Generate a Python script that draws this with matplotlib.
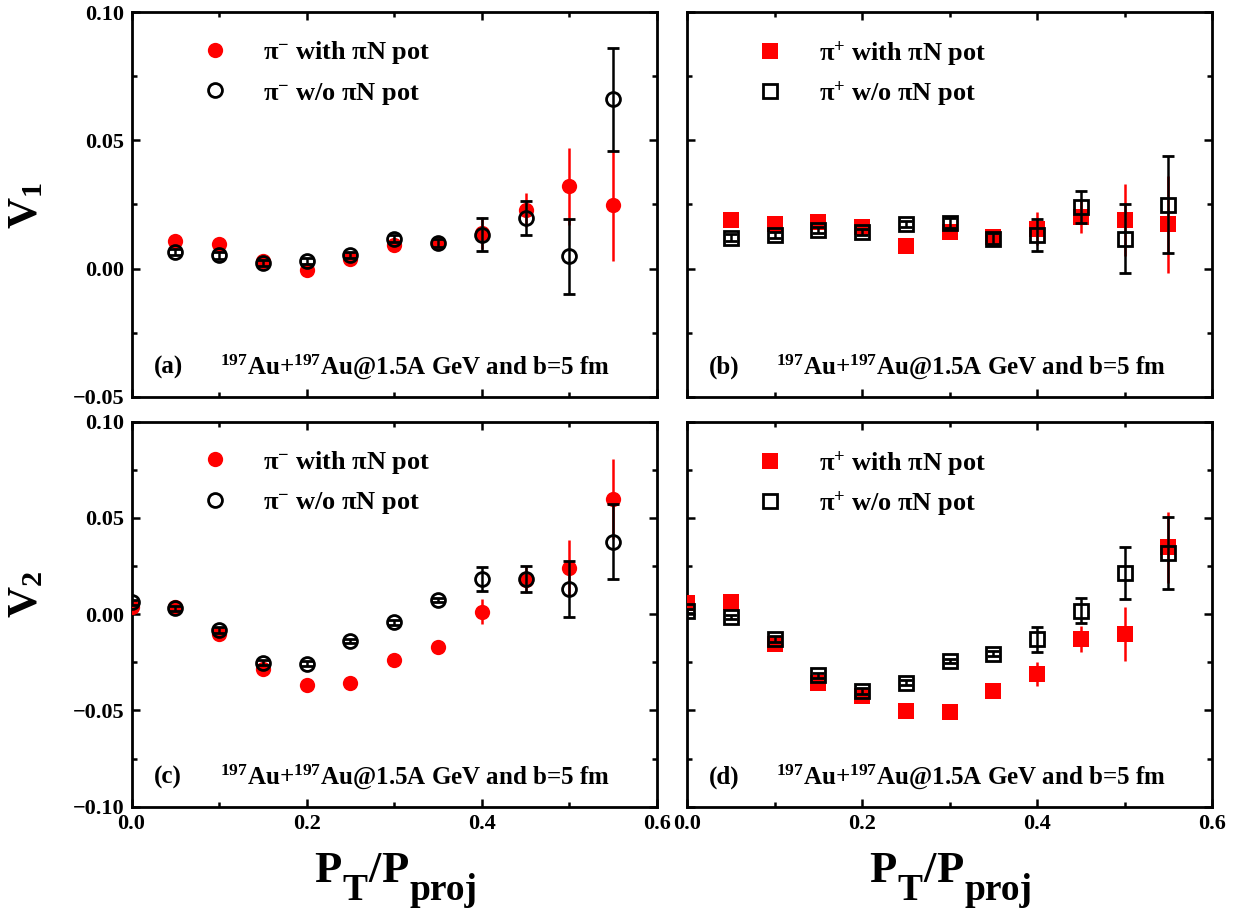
import numpy as np
import matplotlib
matplotlib.use("Agg")
import matplotlib.pyplot as plt
from matplotlib.ticker import MultipleLocator, FuncFormatter

plt.rcParams["font.family"] = ["Liberation Serif", "DejaVu Serif"]
plt.rcParams["font.weight"] = "bold"
plt.rcParams["mathtext.fontset"] = "custom"
plt.rcParams["mathtext.rm"] = "Liberation Serif:bold"
plt.rcParams["mathtext.bf"] = "Liberation Serif:bold"
plt.rcParams["mathtext.it"] = "Liberation Serif:bold:italic"
plt.rcParams["mathtext.default"] = "regular"

# ── data ───────────────────────────────────────────────────
# (a) v1, pi-
x_a = [0.05, 0.10, 0.15, 0.20, 0.25, 0.30, 0.35, 0.40, 0.45, 0.50, 0.55]
v1_pim_with = [0.0108, 0.0094, 0.0030, -0.0006, 0.0039, 0.0091, 0.0100, 0.0140, 0.0230, 0.0321, 0.0247]
v1_pim_with_err = [0.0012, 0.0012, 0.0012, 0.0012, 0.0012, 0.0015, 0.0015, 0.0063, 0.0066, 0.0150, 0.0216]
v1_pim_wo = [0.0065, 0.0051, 0.0022, 0.0030, 0.0052, 0.0117, 0.0101, 0.0132, 0.0197, 0.0048, 0.0661]
v1_pim_wo_err = [0.0012, 0.0012, 0.0012, 0.0012, 0.0012, 0.0015, 0.0015, 0.0064, 0.0065, 0.0146, 0.0201]

# (b) v1, pi+
x_b = [0.05, 0.10, 0.15, 0.20, 0.25, 0.30, 0.35, 0.40, 0.45, 0.50, 0.55]
v1_pip_with = [0.0189, 0.0173, 0.0182, 0.0163, 0.0088, 0.0143, 0.0124, 0.0156, 0.0202, 0.0189, 0.0173]
v1_pip_with_err = [0.0012, 0.0012, 0.0012, 0.0012, 0.0012, 0.0018, 0.0020, 0.0064, 0.0064, 0.0140, 0.0190]
v1_pip_wo = [0.0121, 0.0130, 0.0152, 0.0143, 0.0175, 0.0179, 0.0117, 0.0130, 0.0240, 0.0117, 0.0249]
v1_pip_wo_err = [0.0012, 0.0012, 0.0012, 0.0012, 0.0012, 0.0020, 0.0020, 0.0062, 0.0062, 0.0135, 0.0190]

# (c) v2, pi-
x_c = [0.00, 0.05, 0.10, 0.15, 0.20, 0.25, 0.30, 0.35, 0.40, 0.45, 0.50, 0.55]
v2_pim_with = [0.0035, 0.0038, -0.0101, -0.0283, -0.0368, -0.0359, -0.0238, -0.0168, 0.0014, 0.0177, 0.0238, 0.0597]
v2_pim_with_err = [0.0012, 0.0012, 0.0012, 0.0012, 0.0012, 0.0012, 0.0012, 0.0012, 0.0063, 0.0066, 0.0150, 0.0207]
v2_pim_wo = [0.0061, 0.0031, -0.0083, -0.0252, -0.0257, -0.0139, -0.0043, 0.0073, 0.0181, 0.0182, 0.0132, 0.0377]
v2_pim_wo_err = [0.0012, 0.0012, 0.0015, 0.0012, 0.0012, 0.0012, 0.0012, 0.0012, 0.0063, 0.0066, 0.0145, 0.0194]

# (d) v2, pi+
x_d = [0.00, 0.05, 0.10, 0.15, 0.20, 0.25, 0.30, 0.35, 0.40, 0.45, 0.50, 0.55]
v2_pip_with = [0.0056, 0.0061, -0.0156, -0.0356, -0.0425, -0.0503, -0.0507, -0.0399, -0.0309, -0.0130, -0.0101, 0.0347]
v2_pip_with_err = [0.0012, 0.0012, 0.0012, 0.0012, 0.0012, 0.0012, 0.0012, 0.0012, 0.0063, 0.0067, 0.0140, 0.0186]
v2_pip_wo = [0.0017, -0.0014, -0.0130, -0.0318, -0.0399, -0.0356, -0.0243, -0.0205, -0.0130, 0.0017, 0.0214, 0.0318]
v2_pip_wo_err = [0.0012, 0.0012, 0.0015, 0.0015, 0.0015, 0.0012, 0.0012, 0.0012, 0.0065, 0.0065, 0.0135, 0.0187]

ANNOT = r"$\mathregular{^{197}}$Au+$\mathregular{^{197}}$Au@1.5A GeV and b=5 fm"
RED = "#ff0000"

W, H = 1234, 913
fig = plt.figure(figsize=(W / 100, H / 100), dpi=100)


def px_axes(x0, y0, x1, y1):
    return fig.add_axes([x0 / W, 1 - y1 / H, (x1 - x0) / W, (y1 - y0) / H])


ax_a = px_axes(131.5, 12.3, 657, 396.7)
ax_b = px_axes(687, 12.3, 1212, 396.7)
ax_c = px_axes(131.5, 421.7, 657, 806.7)
ax_d = px_axes(687, 421.7, 1212, 806.7)

minus_fmt = FuncFormatter(lambda v, p: f"{v:.2f}".replace("-", "\u2212"))


def style(ax, ylim, left_labels, bottom_labels):
    ax.set_xlim(0, 0.6)
    ax.set_ylim(*ylim)
    ax.xaxis.set_major_locator(MultipleLocator(0.2))
    ax.xaxis.set_minor_locator(MultipleLocator(0.1))
    ax.yaxis.set_major_locator(MultipleLocator(0.05))
    ax.yaxis.set_minor_locator(MultipleLocator(0.025))
    ax.yaxis.set_major_formatter(minus_fmt)
    ax.xaxis.set_major_formatter(FuncFormatter(lambda v, p: f"{v:.1f}"))
    ax.tick_params(which="both", direction="in", top=True, right=True, width=1.8,
                   labelsize=16, labelleft=left_labels, labelbottom=bottom_labels)
    ax.tick_params(which="major", length=6, pad=5)
    ax.tick_params(which="minor", length=3.5)
    for s in ax.spines.values():
        s.set_linewidth(2)


def draw(ax, x, y1, e1, y2, e2, marker, lab1, lab2, tag):
    h1 = ax.errorbar(x, y1, yerr=e1, fmt=marker, color=RED, ms=11, mew=0,
                     elinewidth=1.8, capsize=4, capthick=1.8, zorder=3)
    h2 = ax.errorbar(x, y2, yerr=e2, fmt=marker, color="black", mfc="none",
                     ms=10 if marker == "o" else 9.5, mew=2,
                     elinewidth=1.8, capsize=4, capthick=1.8, zorder=4)
    ax.legend([h1[0], h2[0]], [lab1, lab2], loc="upper left",
              bbox_to_anchor=(0.138, 0.93), frameon=False, fontsize=19,
              handlelength=0.8, handletextpad=1.45,
              labelspacing=0.55 if marker == "o" else 0.42,
              borderpad=0, borderaxespad=0)
    ax.text(0.042, 0.077, tag, transform=ax.transAxes, fontsize=18,
            fontweight="bold", va="center", ha="left")
    ax.text(0.169, 0.077, ANNOT, transform=ax.transAxes, fontsize=18,
            fontweight="bold", va="center", ha="left")


draw(ax_a, x_a, v1_pim_with, v1_pim_with_err, v1_pim_wo, v1_pim_wo_err, "o",
     r"π$\mathregular{^{-}}$ with πN pot", r"π$\mathregular{^{-}}$ w/o πN pot", "(a)")
draw(ax_b, x_b, v1_pip_with, v1_pip_with_err, v1_pip_wo, v1_pip_wo_err, "s",
     r"π$\mathregular{^{+}}$ with πN pot", r"π$\mathregular{^{+}}$ w/o πN pot", "(b)")
draw(ax_c, x_c, v2_pim_with, v2_pim_with_err, v2_pim_wo, v2_pim_wo_err, "o",
     r"π$\mathregular{^{-}}$ with πN pot", r"π$\mathregular{^{-}}$ w/o πN pot", "(c)")
draw(ax_d, x_d, v2_pip_with, v2_pip_with_err, v2_pip_wo, v2_pip_wo_err, "s",
     r"π$\mathregular{^{+}}$ with πN pot", r"π$\mathregular{^{+}}$ w/o πN pot", "(d)")

style(ax_a, (-0.05, 0.10), True, False)
style(ax_b, (-0.05, 0.10), False, False)
style(ax_c, (-0.10, 0.10), True, True)
style(ax_d, (-0.10, 0.10), False, True)

# axis titles
fig.text(27 / W, 1 - 206 / H, r"V$\mathregular{_1}$", rotation=90, fontsize=31,
         fontweight="bold", ha="center", va="center")
fig.text(27 / W, 1 - 594 / H, r"V$\mathregular{_2}$", rotation=90, fontsize=31,
         fontweight="bold", ha="center", va="center")

# P_T/P_proj with large subscripts, laid out piece by piece
renderer = fig.canvas.get_renderer()
xlab_parts = [("P", 32, 0), ("T", 27, 18), ("/", 32, 0), ("P", 32, 0), ("proj", 27, 18)]


def piece_label(x_px, base_px):
    x = x_px
    for s, size, dy in xlab_parts:
        t = fig.text(x / W, 1 - (base_px + dy) / H, s, fontsize=size,
                     fontweight="bold", ha="left", va="baseline")
        x = t.get_window_extent(renderer).x1 + 1.0


piece_label(314, 882)
piece_label(869, 882)

fig.savefig("out.png", dpi=100)
